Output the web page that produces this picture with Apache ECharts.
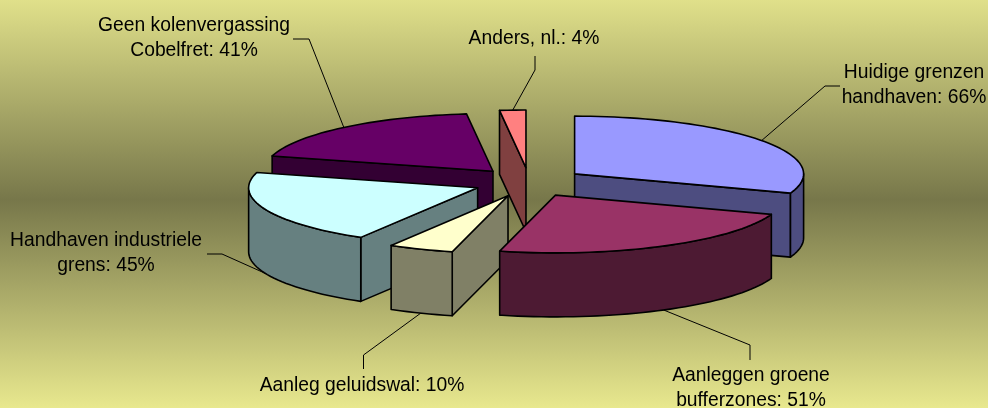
<!DOCTYPE html>
<html>
<head>
<meta charset="utf-8">
<title>Pie 3D</title>
<script src="https://cdn.jsdelivr.net/npm/echarts@6/dist/echarts.min.js"></script>
<style>
html, body { margin: 0; padding: 0; }
#chart { width: 988px; height: 408px; }
</style>
</head>
<body>
<div id="chart"></div>
<script>
// data, clockwise from 12 o'clock
var categories = ['Huidige grenzen\nhandhaven', 'Aanleggen groene\nbufferzones', 'Aanleg geluidswal', 'Handhaven industriele\ngrens', 'Geen kolenvergassing\nCobelfret', 'Anders, nl.'];
var values = [66, 51, 10, 45, 41, 4];

var topColors = ['#9999FF', '#993366', '#FFFFCC', '#CCFFFF', '#660066', '#FF8080'];
var wallColors = ['#4D4D80', '#4D1A33', '#808066', '#668080', '#330033', '#804040'];
// back to front
var paintOrder = [4, 0, 5, 3, 2, 1];

// pie projection
var cx = 529.2, cy = 182.3, rx = 229, ry = 57.7, depth = 64;
var explodeX = 55.6, explodeY = 14.6;

// label centre and leader line elbow(s), per slice
var labelPos = [[914, 85.5], [751, 388.5], [362, 386], [106, 253.5], [194, 38.5], [534, 39]];
var elbows = [
    [[825, 86], [840, 86]],
    [[750, 345], [750, 360]],
    [[363.5, 355], [363.5, 369]],
    [[222, 254], [207, 254]],
    [[309, 39], [293, 39]],
    [[535, 70], [535, 56]]
];

var total = values.reduce(function (a, b) { return a + b; }, 0);
var RAD = Math.PI / 180;

function sliceAngles(index) {
    var sum = 0;
    for (var i = 0; i < index; i++) sum += values[i];
    return [sum / total * 360, (sum + values[index]) / total * 360];
}

function renderSlice(params, api) {
    var idx = params.dataIndex;
    var value = api.value(0);
    var a = sliceAngles(idx);
    var a0 = a[0], a1 = a[1], mid = (a0 + a1) / 2;
    var ox = cx + explodeX * Math.sin(mid * RAD);
    var oy = cy - explodeY * Math.cos(mid * RAD);
    var rim = function (deg) {
        return [ox + rx * Math.sin(deg * RAD), oy - ry * Math.cos(deg * RAD)];
    };
    var down = function (p) { return [p[0], p[1] + depth]; };
    var z = paintOrder.indexOf(idx) * 10 + 10;
    var children = [];

    function face(points, color, order) {
        children.push({
            type: 'polygon',
            z2: z + order,
            shape: { points: points },
            style: { fill: color, stroke: '#000', lineWidth: 1.6, lineJoin: 'round' }
        });
    }

    // radial walls, only those that face the viewer
    var apex = [ox, oy];
    if (Math.sin(a0 * RAD) < -0.01) {
        face([apex, rim(a0), down(rim(a0)), down(apex)], wallColors[idx], 0);
    }
    if (Math.sin(a1 * RAD) > 0.01) {
        face([apex, rim(a1), down(rim(a1)), down(apex)], wallColors[idx], 0);
    }

    // outer wall, front half only
    var from = Math.max(a0, 90), to = Math.min(a1, 270);
    if (from < to) {
        var upper = [], lower = [];
        for (var d = from; d < to; d += 2) {
            upper.push(rim(d));
            lower.unshift(down(rim(d)));
        }
        upper.push(rim(to));
        lower.unshift(down(rim(to)));
        face(upper.concat(lower), wallColors[idx], 1);
    }

    // top
    var topPts = [apex];
    for (var t = a0; t < a1; t += 2) topPts.push(rim(t));
    topPts.push(rim(a1));
    face(topPts, topColors[idx], 2);

    // leader line, sits behind the pie
    var anchor = rim(mid);
    if (Math.cos(mid * RAD) < 0) anchor = down(anchor);
    children.push({
        type: 'polyline',
        z2: 1,
        shape: { points: [anchor].concat(elbows[idx]) },
        style: { fill: null, stroke: '#000', lineWidth: 1 }
    });

    // label
    children.push({
        type: 'text',
        z2: 100,
        style: {
            text: categories[idx] + ': ' + value + '%',
            x: labelPos[idx][0],
            y: labelPos[idx][1],
            align: 'center',
            verticalAlign: 'middle',
            fontFamily: 'Liberation Sans',
            fontSize: 19.3,
            lineHeight: 25,
            fill: '#000'
        }
    });

    return { type: 'group', children: children };
}

var chart = echarts.init(document.getElementById('chart'), null, { renderer: 'canvas' });
chart.setOption({
    animation: false,
    backgroundColor: new echarts.graphic.LinearGradient(0, 0, 0, 1, [
        { offset: 0, color: '#E0E08A' },
        { offset: 0.49, color: '#77774A' },
        { offset: 1, color: '#E8E88E' }
    ]),
    series: [{
        type: 'custom',
        coordinateSystem: 'none',
        silent: true,
        renderItem: renderSlice,
        data: values.map(function (v) { return [v]; })
    }]
});
</script>
</body>
</html>
